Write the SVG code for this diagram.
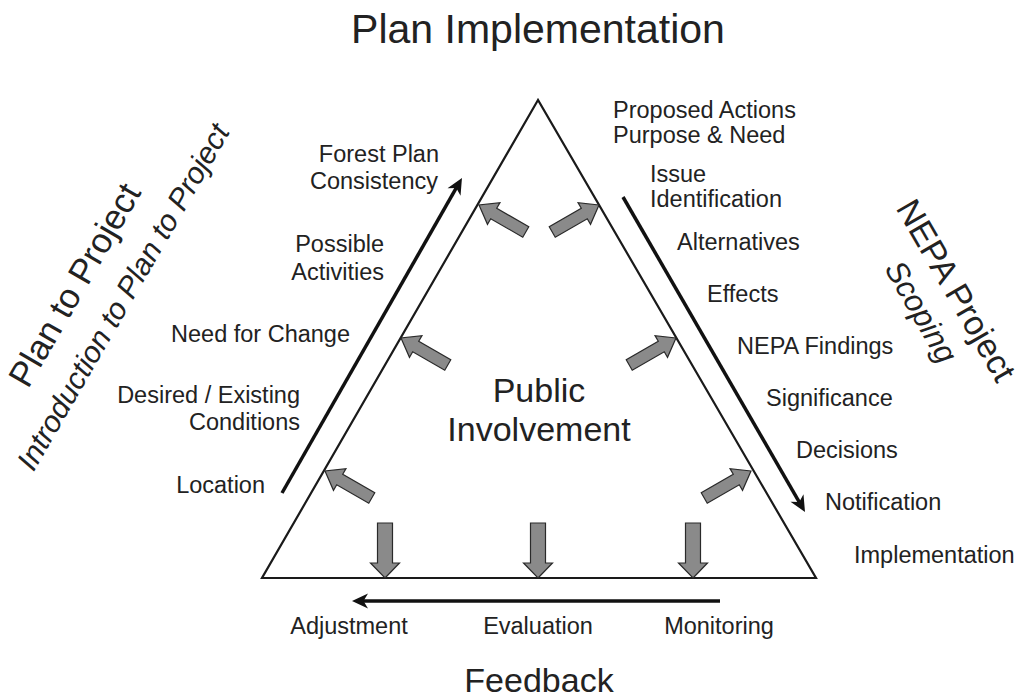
<svg xmlns="http://www.w3.org/2000/svg" xmlns:xlink="http://www.w3.org/1999/xlink" width="1024" height="698" viewBox="0 0 1024 698">
<style>
text{font-family:"Liberation Sans",Arial,Helvetica,sans-serif;fill:#222}
.lbl{font-size:23.5px}
.l{text-anchor:end}
.c{text-anchor:middle}
.big{font-size:34px}
.tri{fill:none;stroke:#1a1a1a;stroke-width:2.2;stroke-linejoin:miter}
.flow{fill:none;stroke:#111;stroke-width:3.5}
.ga{fill:#8a8a8a;stroke:#2a2a2a;stroke-width:1.2;stroke-linejoin:miter}
</style>
<defs>
<marker id="ah" markerUnits="userSpaceOnUse" orient="auto" refX="0" refY="0" viewBox="-8 -9 20 18" markerWidth="20" markerHeight="18">
<path d="M10,0 L-6,-7.5 L-1.5,0 L-6,7.5 Z" fill="#111"/>
</marker>
<path id="diag" d="M0,0 L-17,-12.5 L-17,-6 L-54,-6 L-54,6 L-17,6 L-17,12.5 Z"/>
<path id="down" d="M0,0 L-15,-14.5 L-15,-7.5 L-55,-7.5 L-55,7.5 L-15,7.5 L-15,14.5 Z"/>
</defs>
<rect width="1024" height="698" fill="#fff"/>

<g id="title"><text x="538" y="43" class="c" font-size="41">Plan Implementation</text></g>
<g id="feedback"><text x="539" y="692" class="c big">Feedback</text></g>

<g id="triangle"><polygon class="tri" points="538,100 262,578 816,578"/></g>

<g id="public-involvement">
<text x="539" y="402" class="c big">Public</text>
<text x="539" y="441" class="c big">Involvement</text>
</g>

<g id="gray-arrows" class="ga">
<use xlink:href="#diag" transform="translate(479,205) rotate(-150)"/>
<use xlink:href="#diag" transform="translate(599,205) rotate(-30)"/>
<use xlink:href="#diag" transform="translate(401,338) rotate(-150)"/>
<use xlink:href="#diag" transform="translate(676,338) rotate(-30)"/>
<use xlink:href="#diag" transform="translate(325,471) rotate(-150)"/>
<use xlink:href="#diag" transform="translate(751,471) rotate(-30)"/>
<use xlink:href="#down" transform="translate(385,578) rotate(90)"/>
<use xlink:href="#down" transform="translate(538,578) rotate(90)"/>
<use xlink:href="#down" transform="translate(693,578) rotate(90)"/>
</g>

<g id="connectors">
<line class="flow" x1="282" y1="493" x2="457" y2="186.7" marker-end="url(#ah)"/>
<line class="flow" x1="623" y1="197" x2="800" y2="503.3" marker-end="url(#ah)"/>
<line class="flow" x1="720" y1="601" x2="362" y2="601" marker-end="url(#ah)"/>
</g>

<g id="plan-to-project">
<text class="c" font-size="35" transform="translate(85,291) rotate(-60)">Plan to Project</text>
<text class="c" font-size="30" font-style="italic" transform="translate(132,302) rotate(-60)">Introduction to Plan to Project</text>
</g>

<g id="nepa-project">
<text class="c" font-size="34" transform="translate(946,296) rotate(60)">NEPA Project</text>
<text class="c" font-size="31" font-style="italic" transform="translate(912,317) rotate(60)">Scoping</text>
</g>

<g id="left-labels" class="lbl">
<text x="439" y="162" class="l">Forest Plan</text>
<text x="438" y="189" class="l">Consistency</text>
<text x="384" y="252" class="l">Possible</text>
<text x="384" y="280" class="l">Activities</text>
<text x="350" y="342" class="l">Need for Change</text>
<text x="300" y="403" class="l">Desired / Existing</text>
<text x="300" y="430" class="l">Conditions</text>
<text x="265" y="493" class="l">Location</text>
</g>

<g id="right-labels" class="lbl">
<text x="613" y="118">Proposed Actions</text>
<text x="613" y="143">Purpose &amp; Need</text>
<text x="650" y="182">Issue</text>
<text x="650" y="207">Identification</text>
<text x="677" y="250">Alternatives</text>
<text x="707" y="302">Effects</text>
<text x="737" y="354">NEPA Findings</text>
<text x="766" y="406">Significance</text>
<text x="796" y="458">Decisions</text>
<text x="825" y="510">Notification</text>
<text x="854" y="563">Implementation</text>
</g>

<g id="bottom-labels" class="lbl">
<text x="349" y="634" class="c">Adjustment</text>
<text x="538" y="634" class="c">Evaluation</text>
<text x="719" y="634" class="c">Monitoring</text>
</g>
</svg>
